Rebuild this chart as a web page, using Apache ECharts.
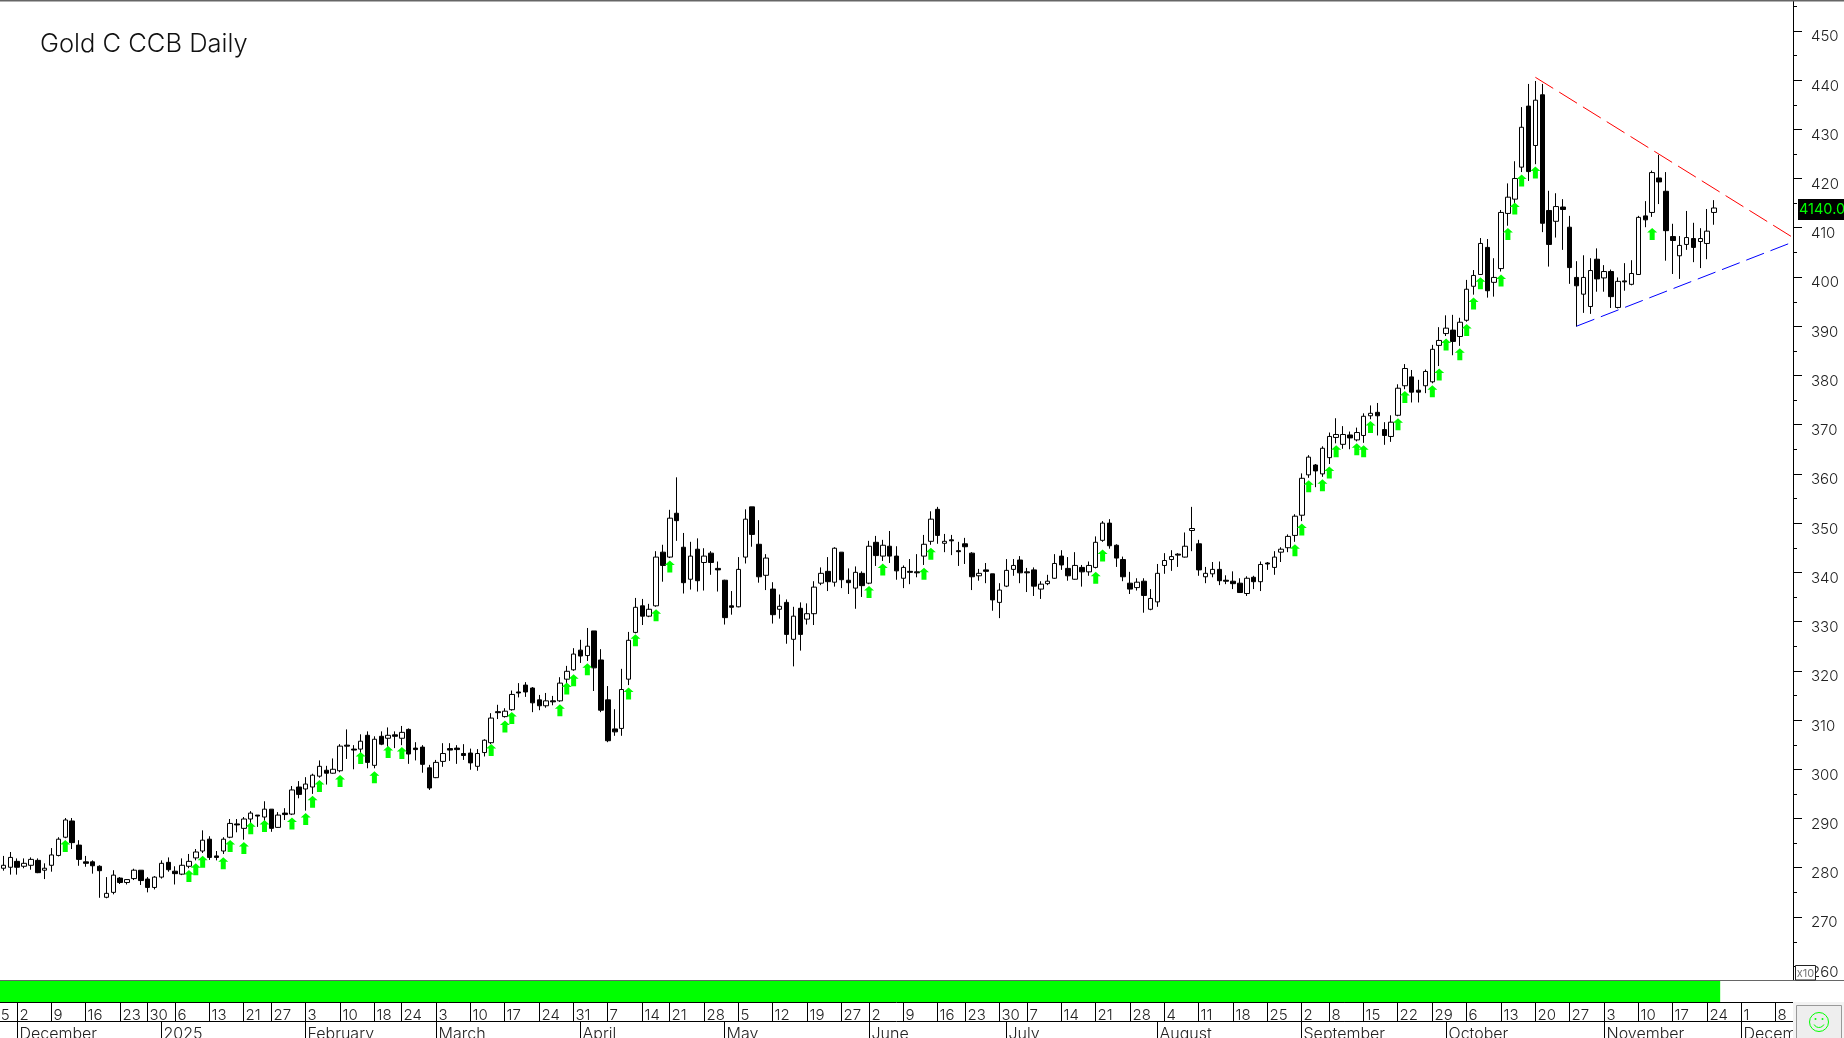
<!DOCTYPE html>
<html>
<head>
<meta charset="utf-8">
<title>Gold C CCB Daily</title>
<style>
  html, body { margin: 0; padding: 0; background: #fff; overflow: hidden; }
  #chart { width: 1844px; height: 1038px; }
</style>
</head>
<body>
<div id="chart"></div>
<script src="https://cdn.jsdelivr.net/npm/echarts@6/dist/echarts.min.js"></script>
<script>
const opens = [
  279.9,280.1,281.3,280.3,280.5,281.5,279.5,280.5,282.5,286.2,
  289.5,284.6,281.2,281.2,280.3,274.0,275.0,277.9,277.0,277.8,
  279.5,277.7,276.0,278.1,281.1,279.3,278.7,280.3,282.0,283.4,
  285.8,282.4,283.4,286.2,288.9,288.0,289.9,290.7,290.3,291.9,
  288.2,291.1,290.9,296.4,296.0,296.4,298.6,299.8,299.2,299.7,
  304.9,304.1,304.1,306.9,300.8,306.7,306.3,307.0,306.3,308.1,
  304.3,304.5,300.3,298.3,301.6,304.2,304.3,303.2,303.3,300.6,
  303.4,305.4,311.7,310.7,312.1,315.7,317.1,316.5,314.1,312.9,
  313.9,313.9,318.3,320.2,324.2,323.1,328.1,322.2,314.1,308.2,
  308.3,318.3,327.8,333.2,331.1,333.2,344.1,343.1,352.0,345.1,
  338.6,344.7,342.0,343.9,340.8,338.4,333.2,333.0,343.1,353.3,
  345.7,339.4,336.6,332.5,333.9,326.4,332.7,330.5,331.6,337.8,
  340.2,338.0,344.1,338.4,336.8,339.8,337.8,346.1,343.3,345.3,
  343.3,338.8,340.2,340.1,343.3,346.3,352.8,345.9,346.6,344.4,
  345.8,343.9,339.3,340.5,339.7,333.9,337.2,340.6,342.5,340.1,
  340.5,336.6,337.7,338.8,343.3,340.8,338.6,341.0,340.1,341.0,
  346.5,350.0,345.5,342.6,337.8,336.9,338.2,332.5,334.0,341.4,
  342.6,343.7,343.1,348.5,345.8,339.1,339.7,340.6,338.4,338.2,
  337.8,335.7,339.0,338.1,341.9,341.0,344.1,345.0,347.5,351.6,
  359.8,361.8,360.0,363.3,367.4,366.0,367.9,366.9,367.8,371.8,
  372.5,369.0,367.6,371.9,377.9,379.7,377.0,377.9,378.7,386.1,
  388.5,389.2,387.9,391.2,398.1,400.5,406.0,398.9,401.7,412.9,
  415.8,422.3,434.7,426.7,437.0,413.5,411.3,414.2,410.1,399.9,
  396.5,394.0,403.6,399.8,401.1,393.8,399.2,398.5,400.5,412.4,
  413.1,420.1,417.4,408.2,404.3,406.6,407.8,407.2,406.8,413.1
];
const closes = [
  280.5,282.1,280.1,280.9,281.7,279.0,279.9,282.6,285.8,289.7,
  285.1,281.7,280.9,280.4,279.4,274.8,278.5,277.0,277.6,279.5,
  277.4,276.0,278.1,280.9,279.6,278.8,280.5,281.3,283.2,285.6,
  282.1,282.1,285.8,289.0,288.7,289.9,291.1,290.5,291.9,288.0,
  290.7,290.8,295.8,294.9,297.0,298.8,300.6,299.2,300.0,304.7,
  304.7,303.9,305.7,301.4,306.1,305.1,306.9,306.7,307.5,303.1,
  304.0,301.0,296.2,301.4,303.2,303.9,304.0,302.8,301.3,303.2,
  305.9,310.4,311.5,311.8,315.2,315.5,315.7,313.5,312.9,313.9,
  313.7,317.5,319.9,323.4,323.0,325.0,320.6,312.0,305.8,307.6,
  316.2,326.2,332.9,331.1,332.5,343.1,341.4,351.0,350.5,337.9,
  343.3,338.3,343.3,342.0,340.5,330.8,332.9,340.6,350.8,347.7,
  339.1,342.9,331.4,333.1,327.4,331.1,327.4,331.6,337.0,339.8,
  338.1,344.9,338.5,337.9,340.0,337.3,345.3,343.4,345.5,343.3,
  340.3,341.0,340.0,339.9,345.7,350.8,347.5,346.3,346.4,344.2,
  345.2,339.1,339.8,340.2,334.4,336.4,340.4,341.4,339.9,339.9,
  337.2,337.6,338.2,341.8,341.5,339.3,341.4,340.1,341.4,346.1,
  350.0,345.4,342.9,339.1,336.6,338.0,335.3,334.7,339.8,342.4,
  343.2,343.5,345.3,348.9,340.5,339.8,340.6,338.3,338.2,337.7,
  335.9,338.8,338.1,341.6,341.7,343.1,344.7,347.3,351.4,359.1,
  363.4,360.6,365.2,367.6,368.0,368.0,367.3,368.4,371.7,372.3,
  371.8,367.8,370.5,377.4,381.4,376.6,376.6,380.8,385.3,387.1,
  389.6,386.9,390.8,397.5,400.3,406.8,397.2,399.9,413.1,416.2,
  420.0,430.4,421.4,435.9,410.9,406.6,414.3,413.7,401.9,398.2,
  399.9,401.3,399.6,401.1,396.0,399.1,399.0,400.7,412.1,411.6,
  421.2,419.3,409.4,407.4,406.4,408.0,406.0,407.8,409.3,414.0
];
const lows = [
  279.4,278.6,278.6,279.9,279.6,278.9,277.7,279.2,282.3,286.0,
  283.8,280.4,280.2,278.8,273.9,273.8,274.6,276.7,276.6,277.5,
  276.5,275.0,275.6,277.8,279.2,276.6,278.5,279.9,281.5,283.0,
  281.6,281.5,282.8,286.0,287.2,285.7,289.1,288.3,289.0,287.3,
  288.1,289.7,290.7,294.1,291.6,295.0,298.3,296.9,299.1,299.4,
  302.1,300.0,303.1,300.2,300.2,304.9,304.6,304.3,304.9,301.1,
  301.8,299.3,295.8,298.2,300.5,301.7,301.1,301.9,299.9,299.7,
  302.6,305.1,310.2,310.5,311.9,314.6,314.7,311.6,312.0,312.5,
  313.0,313.7,317.3,320.0,321.6,322.0,315.9,311.6,305.5,306.8,
  306.8,317.1,327.6,329.3,330.9,333.0,338.1,342.9,346.4,335.7,
  336.5,336.1,336.3,339.5,336.1,329.4,331.4,332.9,341.8,345.2,
  337.9,336.4,329.6,330.6,325.5,320.9,324.1,329.4,329.3,337.4,
  336.2,337.1,336.8,335.6,332.6,335.0,337.6,341.3,342.3,341.9,
  338.5,336.8,337.6,339.0,341.5,345.6,345.8,344.1,343.5,341.3,
  341.7,336.4,338.3,337.8,332.2,330.7,337.0,339.3,337.8,336.0,
  335.2,334.6,337.4,338.7,340.5,338.3,338.5,337.1,339.3,340.8,
  346.2,344.8,341.1,338.2,335.6,336.3,331.8,332.3,333.0,339.7,
  340.3,341.1,343.0,344.3,339.3,337.8,339.0,337.4,337.6,336.6,
  335.8,335.2,336.6,336.2,340.5,339.5,342.1,344.1,346.2,350.4,
  359.2,357.3,359.4,362.0,366.2,365.1,365.0,366.6,366.3,371.1,
  367.8,365.9,366.5,371.7,377.2,374.5,374.5,376.4,378.4,381.9,
  388.0,384.1,386.0,390.9,396.4,400.5,395.8,396.0,401.1,410.4,
  415.0,421.3,419.5,422.9,409.1,402.1,408.0,405.5,398.6,389.9,
  392.7,392.5,397.0,397.0,393.7,393.6,397.2,398.3,400.4,410.1,
  412.2,414.8,403.3,400.6,399.6,405.5,403.0,401.8,403.6,410.6
];
const highs = [
  282.4,283.2,281.9,281.9,282.1,281.9,280.9,284.0,286.2,290.1,
  290.1,285.6,282.4,281.5,280.5,278.1,279.5,278.1,277.7,279.8,
  279.5,278.1,278.3,281.5,282.1,280.3,281.9,282.8,283.8,287.6,
  286.4,283.4,286.2,289.9,289.9,290.3,291.5,290.7,293.5,291.9,
  291.3,292.1,296.6,297.6,298.4,299.1,301.8,300.7,302.2,305.1,
  308.1,304.9,307.1,307.7,306.7,307.7,308.5,307.7,308.8,308.3,
  305.5,304.9,300.9,301.9,305.3,305.3,304.9,305.1,304.2,304.1,
  306.1,311.4,313.1,312.4,316.0,317.5,317.7,316.7,315.1,315.5,
  314.9,318.7,321.0,324.6,326.3,328.7,328.1,324.4,316.9,312.2,
  320.4,327.9,334.8,334.6,333.6,344.3,345.6,352.7,359.3,348.0,
  346.2,346.9,344.9,344.3,342.2,338.5,336.2,343.1,352.8,353.3,
  350.6,343.7,338.0,335.5,334.5,333.0,333.9,333.7,338.2,341.0,
  343.1,345.1,344.1,340.8,341.2,340.2,346.4,347.4,346.6,348.4,
  345.3,341.4,342.7,343.7,347.6,352.4,353.3,347.8,347.6,346.2,
  347.0,344.1,340.7,341.9,339.7,337.8,342.7,342.7,343.3,340.9,
  341.0,338.2,339.5,343.7,344.5,343.1,344.1,341.5,342.2,347.3,
  350.4,350.8,345.7,343.2,340.1,338.8,338.8,336.6,341.7,343.9,
  344.5,343.9,348.1,353.3,346.6,341.1,342.1,342.2,339.4,340.2,
  338.8,339.2,339.3,342.2,342.1,344.3,345.1,347.7,351.8,360.1,
  363.8,362.0,365.6,368.4,371.3,369.7,368.6,369.4,372.3,373.9,
  374.4,370.5,371.9,378.2,382.3,381.1,379.1,381.2,386.2,389.8,
  392.2,392.3,391.7,399.4,401.4,407.9,407.7,403.8,413.6,419.0,
  423.5,434.5,439.2,439.8,439.2,417.5,417.0,415.8,412.4,403.2,
  404.4,403.8,405.8,402.4,401.5,399.9,402.8,403.4,412.4,415.4,
  421.6,424.8,421.3,410.8,408.3,413.4,411.0,409.9,413.8,415.6
];

// green buy arrows: bar index and the price the arrow sits at
const arrowBars = [
  9,27,28,29,32,33,35,36,38,42,44,45,46,49,52,54,56,58,71,73,74,81,82,83,85,91,92,95,97,
  126,128,134,135,159,160,188,189,190,192,193,194,197,198,199,203,204,208,209,210,212,213,214,215,218,219,220,221,223,240
];
const arrowPrices = [
  284.4,278.3,279.7,281.2,280.9,284.4,284.0,288.0,288.5,289.0,289.9,293.4,296.6,297.6,302.3,298.4,303.5,303.3,303.9,308.7,310.4,312.0,316.4,318.1,320.3,315.4,326.2,331.3,341.2,
  336.0,340.6,339.7,343.8,338.9,343.4,344.5,348.7,357.5,357.7,360.3,364.6,365.0,364.6,369.5,370.1,375.6,376.8,380.2,386.3,384.3,389.2,394.6,398.7,399.3,408.7,413.9,419.6,421.2,408.7
];

// trend lines, x in bar slots
const redTrend = [[223.5, 440.55], [261, 408.0]];
const blueTrend = [[229.5, 390.0], [261, 407.1]];

const priceLabels = [260,270,280,290,300,310,320,330,340,350,360,370,380,390,400,410,420,430,440,450];
const priceMinor = [265,275,285,295,305,315,325,335,345,355,365,375,385,395,405,415,425,435,445,455];
const lastPrice = 414.0;
const lastPriceText = '4140.0';

const dayBars = [-2,2,7,12,17,21,25,30,35,39,44,49,54,58,63,68,73,78,83,88,93,97,102,107,112,117,122,126,131,136,140,145,149,154,159,164,169,174,179,184,189,193,198,203,208,213,218,223,228,233,238,243,248,253,258];
const dayLabels = ['25','2','9','16','23','30','6','13','21','27','3','10','18','24','3','10','17','24','31','7','14','21','28','5','12','19','27','2','9','16','23','30','7','14','21','28','4','11','18','25','2','8','15','22','29','6','13','20','27','3','10','17','24','1','8'];
const monthBars = [2,23,44,63,84,105,126,146,168,189,210,233,253];
const monthLabels = ['December','2025','February','March','April','May','June','July','August','September','October','November','December'];

const slots = 261;
const categories = Array.from({length: slots}, (_, i) => String(i));
const signalEnd = 250.4;

const labelFont = 'Inter, "Noto Sans", sans-serif';
const arrowPath = 'path://M5 0 L10 4.5 L7.5 4.5 L7.5 12 L2.5 12 L2.5 4.5 L0 4.5 Z';

const candles = opens.map((o, i) => [o, closes[i], lows[i], highs[i]]);
const arrows = arrowBars.map((b, i) => [b, arrowPrices[i]]);

const renderStrip = (labels, fontSize) => (params, api) => {
	const bottom = api.coord([api.value(0), 0]);
	const top = api.coord([api.value(0), 1]);
	const x = Math.floor(bottom[0]) + 0.5;
	return {
		type: 'group',
		children: [
			{type: 'line', shape: {x1: x, y1: top[1], x2: x, y2: bottom[1]}, style: {stroke: '#000', lineWidth: 1}},
			{type: 'text', style: {
				text: labels[params.dataIndex],
				x: x + 2,
				y: top[1] + 13,
				verticalAlign: 'middle',
				fill: '#222',
				font: '300 ' + fontSize + 'px ' + labelFont
			}}
		]
	};
};

// short ticks at the 5s on the price scale
const renderMinorTick = (params, api) => {
	const p = api.coord([slots, api.value(0)]);
	const y = Math.round(p[1]) + 0.5;
	return {type: 'line', shape: {x1: p[0], y1: y, x2: p[0] + 4, y2: y}, style: {stroke: '#000', lineWidth: 1}};
};

const renderPriceTag = (params, api) => {
	const p = api.coord([slots, api.value(0)]);
	return {
		type: 'group',
		children: [
			{type: 'rect', shape: {x: p[0] + 5, y: p[1] - 9, width: 60, height: 21}, style: {fill: '#000'}},
			{type: 'text', style: {
				text: lastPriceText,
				x: p[0] + 6,
				y: p[1] + 1.5,
				verticalAlign: 'middle',
				fill: '#00ff00',
				font: '14.5px ' + labelFont
			}}
		]
	};
};

const chart = echarts.init(document.getElementById('chart'), null, {renderer: 'canvas'});

const option = {
	animation: false,
	backgroundColor: '#fff',
	title: {
		text: 'Gold C CCB Daily',
		left: 40,
		top: 31,
		padding: 0,
		textStyle: {color: '#111', fontFamily: labelFont, fontWeight: 300, fontSize: 25.5}
	},
	grid: [
		{left: 0, top: 0, width: 1793, height: 980, outerBoundsMode: 'none'},
		{left: 0, top: 981, width: 1793, height: 21, outerBoundsMode: 'none'},
		{left: 0, top: 1002, width: 1793, height: 19, outerBoundsMode: 'none'},
		{left: 0, top: 1021, width: 1793, height: 17, outerBoundsMode: 'none'}
	],
	xAxis: [
		{gridIndex: 0, type: 'category', data: categories, show: false},
		{gridIndex: 0, type: 'value', min: 0, max: slots, show: false},
		{gridIndex: 1, type: 'value', min: 0, max: slots, show: false},
		{gridIndex: 2, type: 'value', min: 0, max: slots, position: 'top', splitLine: {show: false},
			axisLine: {show: true, onZero: false, lineStyle: {color: '#000'}}, axisTick: {show: false}, axisLabel: {show: false}},
		{gridIndex: 3, type: 'value', min: 0, max: slots, position: 'top', splitLine: {show: false},
			axisLine: {show: true, onZero: false, lineStyle: {color: '#000'}}, axisTick: {show: false}, axisLabel: {show: false}}
	],
	yAxis: [
		{
			gridIndex: 0, type: 'value', min: 257.2, max: 456.25, position: 'right', splitLine: {show: false},
			axisLine: {show: true, onZero: false, lineStyle: {color: '#000'}},
			axisTick: {show: true, inside: false, length: 9, customValues: priceLabels, lineStyle: {color: '#000'}},
			axisLabel: {
				show: true, customValues: priceLabels, margin: 18, color: '#222', fontFamily: labelFont, fontWeight: 300, fontSize: 15,
				verticalAlign: 'top', lineHeight: 12
			}
		},
		{gridIndex: 1, type: 'category', data: ['signal'], axisLine: {show: true, lineStyle: {color: '#000'}}, axisTick: {show: false}, axisLabel: {show: false}},
		{gridIndex: 2, type: 'value', min: 0, max: 1, show: false},
		{gridIndex: 3, type: 'value', min: 0, max: 1, show: false}
	],
	series: [
		{
			type: 'candlestick',
			xAxisIndex: 0,
			yAxisIndex: 0,
			data: candles,
			barWidth: 5,
			itemStyle: {color: '#fff', color0: '#000', borderColor: '#000', borderColor0: '#000', borderWidth: 1}
		},
		{
			type: 'scatter',
			xAxisIndex: 0,
			yAxisIndex: 0,
			data: arrows,
			symbol: arrowPath,
			symbolSize: [10, 12],
			itemStyle: {color: '#00ff00', opacity: 1}
		},
		{
			type: 'line', xAxisIndex: 1, yAxisIndex: 0, data: redTrend, symbol: 'none', clip: false,
			lineStyle: {color: '#ff0000', width: 1, type: [21, 7]}
		},
		{
			type: 'line', xAxisIndex: 1, yAxisIndex: 0, data: blueTrend, symbol: 'none', clip: false,
			lineStyle: {color: '#0000ff', width: 1, type: [19, 7]}
		},
		{
			type: 'custom', xAxisIndex: 1, yAxisIndex: 0, clip: false, silent: true,
			data: priceMinor.map((v) => [v]),
			encode: {y: 0},
			renderItem: renderMinorTick
		},
		{
			type: 'custom', xAxisIndex: 1, yAxisIndex: 0, clip: false, silent: true,
			data: [[lastPrice]],
			encode: {y: 0},
			renderItem: renderPriceTag
		},
		{
			type: 'bar', xAxisIndex: 2, yAxisIndex: 1, data: [signalEnd], barWidth: '100%',
			itemStyle: {color: '#00ff00'}
		},
		{
			type: 'custom', xAxisIndex: 3, yAxisIndex: 2, clip: false,
			data: dayBars.map((b) => [b + 0.5]),
			encode: {x: 0},
			renderItem: renderStrip(dayLabels, 15)
		},
		{
			type: 'custom', xAxisIndex: 4, yAxisIndex: 3, clip: false,
			data: monthBars.map((b) => [b + 0.5]),
			encode: {x: 0},
			renderItem: renderStrip(monthLabels, 16)
		}
	],
	graphic: [
		{type: 'rect', z: 100, shape: {x: 0, y: 0, width: 1844, height: 1.5}, style: {fill: '#666'}},
		{type: 'rect', z: 100, shape: {x: 0, y: 980, width: 1844, height: 1}, style: {fill: '#666'}},
		{type: 'rect', z: 100, shape: {x: 1795.5, y: 965.5, width: 20, height: 14.5}, style: {fill: '#fff', stroke: '#222', lineWidth: 1}},
		{type: 'text', z: 101, style: {text: 'x10', x: 1805.5, y: 974, align: 'center', verticalAlign: 'middle', fill: '#777', font: '11px ' + labelFont}},
		{type: 'rect', z: 100, shape: {x: 1793, y: 1002, width: 51, height: 36}, style: {fill: '#f3f3f3'}},
		{type: 'rect', z: 101, shape: {x: 1796.5, y: 1005.5, width: 45, height: 33}, style: {fill: '#eeeeee', stroke: '#999', lineWidth: 1}},
		{type: 'circle', z: 102, shape: {cx: 1819, cy: 1022, r: 9.5}, style: {fill: 'none', stroke: '#00ff00', lineWidth: 1}},
		{type: 'circle', z: 102, shape: {cx: 1815.5, cy: 1019, r: 1}, style: {fill: '#00ff00'}},
		{type: 'circle', z: 102, shape: {cx: 1822.5, cy: 1019, r: 1}, style: {fill: '#00ff00'}},
		{type: 'arc', z: 102, shape: {cx: 1819, cy: 1022, r: 5.5, startAngle: 0.15 * Math.PI, endAngle: 0.85 * Math.PI}, style: {fill: 'none', stroke: '#00ff00', lineWidth: 1}}
	]
};

chart.setOption(option);
</script>
</body>
</html>
